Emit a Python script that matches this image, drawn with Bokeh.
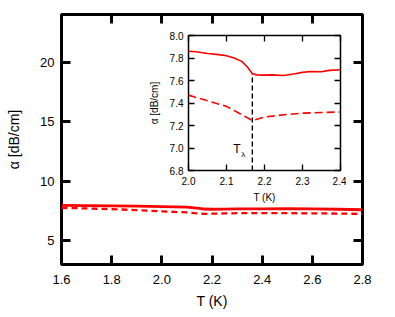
from bokeh.plotting import figure
from bokeh.models import LinearAxis, FixedTicker, PrintfTickFormatter, Label
from bokeh.embed import file_html
from bokeh.resources import INLINE

# ---- data (main panel) ----
t_main = [1.6, 1.7, 1.8, 1.9, 2.0, 2.05, 2.1, 2.13, 2.15, 2.168, 2.2, 2.25, 2.3, 2.35, 2.4, 2.5, 2.6, 2.7, 2.8]
alpha_solid_main = [7.96, 7.95, 7.93, 7.90, 7.86, 7.84, 7.82, 7.76, 7.72, 7.66, 7.64, 7.645, 7.67, 7.68, 7.68, 7.69, 7.67, 7.64, 7.60]
alpha_dash_main = [7.76, 7.71, 7.65, 7.57, 7.47, 7.42, 7.37, 7.31, 7.28, 7.245, 7.27, 7.29, 7.31, 7.315, 7.32, 7.31, 7.30, 7.28, 7.25]

# ---- data (inset) ----
t_in = [2.0, 2.02, 2.05, 2.08, 2.1, 2.12, 2.14, 2.155, 2.168, 2.18, 2.2, 2.22, 2.25, 2.28, 2.3, 2.32, 2.35, 2.37, 2.4]
alpha_solid_in = [7.86, 7.855, 7.84, 7.83, 7.82, 7.80, 7.77, 7.72, 7.66, 7.65, 7.648, 7.65, 7.645, 7.66, 7.672, 7.68, 7.678, 7.69, 7.695]
t_dash_in = [2.0, 2.05, 2.1, 2.168, 2.2, 2.25, 2.3, 2.35, 2.4]
alpha_dash_in = [7.47, 7.42, 7.37, 7.245, 7.275, 7.295, 7.31, 7.315, 7.32]

t_lambda = [2.168]
t_lambda_bottom = [6.8]
t_lambda_top = [7.655]

main_xticks = [1.6, 1.8, 2.0, 2.2, 2.4, 2.6, 2.8]
main_yticks = [5, 10, 15, 20]
in_xticks = [2.0, 2.1, 2.2, 2.3, 2.4]
in_yticks = [6.8, 7.0, 7.2, 7.4, 7.6, 7.8, 8.0]

FONT = "Liberation Sans"
RED = "#ff0000"


def style_axis(ax, ticks, fmt, tick_len, tick_w, font_size, show_labels=True):
    ax.ticker = FixedTicker(ticks=ticks)
    ax.formatter = PrintfTickFormatter(format=fmt)
    ax.major_tick_in = tick_len
    ax.major_tick_out = 0
    ax.minor_tick_in = 0
    ax.minor_tick_out = 0
    ax.major_tick_line_width = tick_w
    ax.major_tick_line_color = "black"
    ax.axis_line_color = None
    ax.major_label_text_font = FONT
    ax.major_label_text_color = "black"
    if show_labels:
        ax.major_label_text_font_size = font_size
    else:
        ax.major_label_text_font_size = "0px"
        ax.major_label_text_color = None
        ax.major_label_standoff = 0


# ---- main figure ----
p = figure(width=385, height=315, x_range=(1.6, 2.8), y_range=(3, 24),
           output_backend="svg", toolbar_location=None,
           min_border_left=61, min_border_top=14, min_border_right=23, min_border_bottom=51)
p.grid.visible = False
p.outline_line_color = "black"
p.outline_line_width = 3
p.background_fill_color = "white"
p.border_fill_color = "white"

style_axis(p.xaxis[0], main_xticks, "%.1f", 9, 3, "13px")
style_axis(p.yaxis[0], main_yticks, "%d", 9, 3, "13px")
p.xaxis[0].major_label_standoff = 10
p.yaxis[0].major_label_standoff = 7
p.xaxis[0].axis_label = "T (K)"
p.yaxis[0].axis_label = "α [dB/cm]"
for ax in (p.xaxis[0], p.yaxis[0]):
    ax.axis_label_text_font = FONT
    ax.axis_label_text_font_style = "normal"
    ax.axis_label_text_font_size = "14px"
    ax.axis_label_text_color = "black"
p.xaxis[0].axis_label_standoff = 6
p.yaxis[0].axis_label_standoff = 15

top_ax = LinearAxis()
style_axis(top_ax, main_xticks, "%.1f", 9, 3, "13px", show_labels=False)
p.add_layout(top_ax, "above")
right_ax = LinearAxis()
style_axis(right_ax, main_yticks, "%d", 9, 3, "13px", show_labels=False)
p.add_layout(right_ax, "right")

p.line(t_main, alpha_solid_main, line_color=RED, line_width=2.8)
p.line(t_main, alpha_dash_main, line_color=RED, line_width=2.3, line_dash="6 4")

# ---- inset figure (separate root, placed over the main one) ----
q = figure(width=201, height=177, x_range=(2.0, 2.4), y_range=(6.8, 8.0),
           output_backend="svg", toolbar_location=None,
           min_border_left=40, min_border_top=6, min_border_right=6, min_border_bottom=36,
           styles={"position": "absolute", "left": "145px", "top": "29px"})
q.grid.visible = False
q.outline_line_color = "black"
q.outline_line_width = 1.5
q.background_fill_color = "white"
q.border_fill_alpha = 0

style_axis(q.xaxis[0], in_xticks, "%.1f", 6, 1.3, "10px")
style_axis(q.yaxis[0], in_yticks, "%.1f", 6, 1.3, "10px")
q.xaxis[0].major_label_standoff = 6
q.yaxis[0].major_label_standoff = 5
q.xaxis[0].axis_label = "T (K)"
q.yaxis[0].axis_label = "α [dB/cm]"
for ax in (q.xaxis[0], q.yaxis[0]):
    ax.axis_label_text_font = FONT
    ax.axis_label_text_font_style = "normal"
    ax.axis_label_text_font_size = "10px"
    ax.axis_label_text_color = "black"
q.xaxis[0].axis_label_standoff = 4
q.yaxis[0].axis_label_standoff = 7

qt = LinearAxis()
style_axis(qt, in_xticks, "%.1f", 6, 1.3, "10px", show_labels=False)
q.add_layout(qt, "above")
qr = LinearAxis()
style_axis(qr, in_yticks, "%.1f", 6, 1.3, "10px", show_labels=False)
q.add_layout(qr, "right")

q.line(t_in, alpha_solid_in, line_color=RED, line_width=1.6)
q.line(t_dash_in, alpha_dash_in, line_color=RED, line_width=1.6, line_dash="8 4")
q.segment(x0=t_lambda, y0=t_lambda_bottom, x1=t_lambda, y1=t_lambda_top,
          line_color="black", line_width=1.4, line_dash="5 3")

q.add_layout(Label(x=2.118, y=6.93, text="T", text_font=FONT, text_font_size="12px",
                   text_color="black"))
q.add_layout(Label(x=2.118, y=6.93, x_offset=8, y_offset=-3, text="λ", text_font=FONT,
                   text_font_size="8px", text_color="black"))

open("out.html", "w").write(file_html([p, q], INLINE))
